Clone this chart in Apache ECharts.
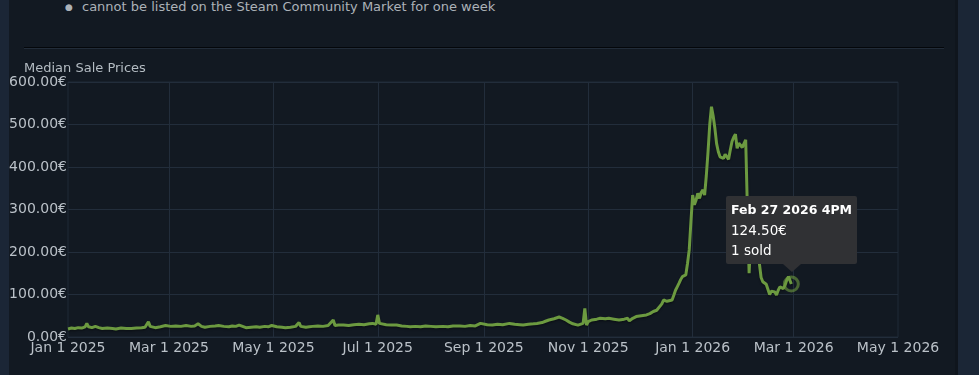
<!DOCTYPE html>
<html><head><meta charset="utf-8">
<script src="https://cdn.jsdelivr.net/npm/echarts@6/dist/echarts.min.js"></script>
<style>
html,body{margin:0;padding:0;width:979px;height:375px;overflow:hidden;background:#1b2636;}
#panel{position:absolute;left:9px;top:0;width:946px;height:375px;background:#121922;}
#edge{position:absolute;left:955px;top:0;width:3px;height:375px;background:#0f151d;}
#note{position:absolute;left:0;top:-1px;width:979px;height:16px;font:13px/16px "DejaVu Sans";color:#acb2b8;white-space:nowrap;}
#sep{position:absolute;left:24px;top:47px;width:920px;height:1px;background:#04070b;border-bottom:1px solid #222c39;}
#chart{position:absolute;left:0;top:0;width:979px;height:375px;}
</style></head>
<body>
<div id="panel"></div><div id="edge"></div>
<div id="note"><span style="position:absolute;left:65px;font-size:9px">&#9679;</span><span style="position:absolute;left:82px">cannot be listed on the Steam Community Market for one week</span></div>
<div id="sep"></div>
<div id="chart"></div>
<script>
// ---- data ----
var titleText = 'Median Sale Prices';
var xTickDates = ['2025-01-01','2025-03-01','2025-05-01','2025-07-01','2025-09-01','2025-11-01','2026-01-01','2026-03-01','2026-05-01'];
var yTicks = [0,100,200,300,400,500,600];
var monthNames = ['Jan','Feb','Mar','Apr','May','Jun','Jul','Aug','Sep','Oct','Nov','Dec'];
var dates = [
'2025-01-01','2025-01-03','2025-01-05','2025-01-07','2025-01-09','2025-01-11','2025-01-12','2025-01-13','2025-01-15','2025-01-17','2025-01-19','2025-01-21','2025-01-24','2025-01-27','2025-01-29',
'2025-02-01','2025-02-04','2025-02-07','2025-02-10','2025-02-13','2025-02-15','2025-02-17','2025-02-18','2025-02-19','2025-02-21','2025-02-24','2025-02-27',
'2025-03-02','2025-03-05','2025-03-08','2025-03-11','2025-03-14','2025-03-16','2025-03-18','2025-03-20','2025-03-22','2025-03-25','2025-03-28','2025-03-30',
'2025-04-02','2025-04-05','2025-04-07','2025-04-09','2025-04-11','2025-04-13','2025-04-15','2025-04-18','2025-04-21','2025-04-23','2025-04-26','2025-04-28','2025-04-30',
'2025-05-03','2025-05-06','2025-05-08','2025-05-11','2025-05-14','2025-05-16','2025-05-17','2025-05-20','2025-05-22','2025-05-24','2025-05-27','2025-05-30',
'2025-06-02','2025-06-05','2025-06-06','2025-06-08','2025-06-11','2025-06-14','2025-06-17','2025-06-20','2025-06-23','2025-06-26','2025-06-28','2025-06-30',
'2025-07-01','2025-07-02','2025-07-03','2025-07-06','2025-07-09','2025-07-12','2025-07-15','2025-07-18','2025-07-20','2025-07-23','2025-07-26','2025-07-29',
'2025-08-01','2025-08-04','2025-08-08','2025-08-11','2025-08-14','2025-08-18','2025-08-21','2025-08-24','2025-08-27','2025-08-30','2025-08-31',
'2025-09-03','2025-09-06','2025-09-09','2025-09-12','2025-09-16','2025-09-19','2025-09-22','2025-09-24','2025-09-27','2025-09-30',
'2025-10-02','2025-10-05','2025-10-07','2025-10-09','2025-10-12','2025-10-15','2025-10-17','2025-10-19','2025-10-21','2025-10-23','2025-10-26','2025-10-29','2025-10-30','2025-10-31',
'2025-11-01','2025-11-03','2025-11-06','2025-11-08','2025-11-11','2025-11-13','2025-11-16','2025-11-19','2025-11-22','2025-11-24','2025-11-25','2025-11-27','2025-11-29',
'2025-12-02','2025-12-05','2025-12-07','2025-12-09','2025-12-11','2025-12-12','2025-12-14','2025-12-15','2025-12-17','2025-12-18','2025-12-20','2025-12-21','2025-12-22','2025-12-23','2025-12-24','2025-12-25','2025-12-26','2025-12-27','2025-12-28','2025-12-29','2025-12-30','2025-12-31',
'2026-01-01','2026-01-02','2026-01-03','2026-01-04','2026-01-05','2026-01-06','2026-01-07','2026-01-08','2026-01-09','2026-01-10','2026-01-11','2026-01-12','2026-01-13','2026-01-14','2026-01-15','2026-01-16','2026-01-17','2026-01-18','2026-01-19','2026-01-20','2026-01-21','2026-01-22','2026-01-23','2026-01-24','2026-01-25','2026-01-26','2026-01-27','2026-01-28','2026-01-29','2026-01-30','2026-01-31',
'2026-02-01','2026-02-02','2026-02-03','2026-02-04','2026-02-05','2026-02-06','2026-02-07','2026-02-08','2026-02-09','2026-02-10','2026-02-11','2026-02-12','2026-02-13','2026-02-14','2026-02-15','2026-02-16','2026-02-17','2026-02-18','2026-02-19','2026-02-20','2026-02-21','2026-02-22','2026-02-23','2026-02-24','2026-02-25','2026-02-26','2026-02-27 16'
];
var prices = [
19,21,20,22,21,24,32,24,22,25,22,20,21,20,19,
21,20,20,21,22,23,36,25,23,22,24,27,
25,26,25,27,25,26,31,25,23,25,26,27,
25,24,26,25,28,25,22,23,24,23,25,24,27,
24,23,22,23,25,34,25,23,24,25,26,25,
27,40,27,28,28,27,29,30,29,31,32,30,
52,32,30,29,28,28,26,25,24,25,24,26,
25,24,25,24,26,26,25,27,26,32,28,
29,28,30,29,32,30,29,28,30,31,
32,34,37,40,43,47,44,40,35,31,28,32,67,28,
36,40,42,44,43,44,42,40,42,44,38,44,48,
50,52,55,60,63,67,78,87,84,83,87,98,110,118,126,135,142,140,146,173,205,271,
334,311,322,338,326,340,346,334,380,436,500,542,520,491,455,436,424,428,420,430,428,418,440,460,470,477,444,456,452,446,448,
464,300,150,240,220,205,195,185,173,140,130,128,124,122,100,108,104,106,99,110,118,116,114,122,134,142,124.5
];
var tipTitle = 'Feb 27 2026 4PM';
var tipSold = 1;

// ---- helpers ----
function toTs(s){
  var p = s.split(' '); var d = p[0].split('-');
  return Date.UTC(+d[0], +d[1]-1, +d[2], p[1] ? +p[1] : 0);
}
function fmtDate(v){
  var d = new Date(v);
  return monthNames[d.getUTCMonth()] + ' ' + d.getUTCDate() + ' ' + d.getUTCFullYear();
}
var seriesData = dates.map(function(s,i){ return [toTs(s), prices[i]]; });
var last = seriesData[seriesData.length-1];
var tickTs = xTickDates.map(toTs);
var FONT = '"DejaVu Sans", sans-serif';

var chart = echarts.init(document.getElementById('chart'), null, {renderer:'canvas'});
chart.setOption({
  animation: false,
  backgroundColor: 'transparent',
  title: {text: titleText, left: 19, top: 57, textStyle: {color:'#b4bcc3', fontSize:13, fontWeight:'normal', fontFamily: FONT}},
  grid: {left: 68, top: 82, width: 830, height: 255, show: true, borderColor: '#1f2a37', borderWidth: 1, backgroundColor: 'transparent'},
  xAxis: {
    type: 'value', min: tickTs[0], max: tickTs[tickTs.length-1],
    axisLine: {show: false}, axisTick: {show: false},
    splitLine: {show: false},
    axisLabel: {customValues: tickTs, formatter: function(v){ return fmtDate(v); }, color: '#bac1c8', fontSize: 14, fontFamily: FONT, margin: 4, hideOverlap: false, showMinLabel: true, showMaxLabel: true}
  },
  yAxis: {
    type: 'value', min: yTicks[0], max: yTicks[yTicks.length-1], interval: 100,
    axisLine: {show: false}, axisTick: {show: false},
    splitLine: {show: true, lineStyle: {color: '#222d3b', width: 1}},
    axisLabel: {formatter: function(v){ return v.toFixed(2) + '€'; }, color: '#bac1c8', fontSize: 14, fontFamily: FONT, margin: 1}
  },
  tooltip: {
    trigger: 'item', triggerOn: 'none', alwaysShowContent: true, transitionDuration: 0,
    backgroundColor: '#303134', borderWidth: 0, padding: [4, 5],
    extraCssText: 'box-shadow:none;border-radius:2px;line-height:20px;',
    textStyle: {color: '#ffffff', fontSize: 13.5, fontFamily: FONT},
    position: function(pt, params, dom, rect, size){
      var p = chart.convertToPixel({gridIndex: 0}, last);
      return [p[0] - size.contentSize[0]/2, p[1] - size.contentSize[1] - 20];
    },
    formatter: function(){
      return '<div style="font-weight:bold;font-size:12.5px">' + tipTitle + '</div>' +
        '<div>' + last[1].toFixed(2) + '€</div>' +
        '<div>' + tipSold + ' sold</div>' +
        '<div style="position:absolute;left:50%;bottom:-8px;margin-left:-9px;width:0;height:0;border-left:9px solid transparent;border-right:9px solid transparent;border-top:8px solid #303134"></div>';
    }
  },
  series: [
    {type: 'line', data: seriesData, showSymbol: false, symbol: 'none',
     lineStyle: {color: '#6c9a40', width: 3, shadowColor: 'rgba(0,0,0,0.35)', shadowBlur: 2, shadowOffsetY: 1.5},
     silent: true, z: 3,
     markLine: {silent: true, symbol: 'none', label: {show: false}, z: 1,
       lineStyle: {color: '#222d3b', width: 1, type: 'solid'},
       data: tickTs.slice(1, -1).map(function(t){ return {xAxis: t}; })}
    },
    {type: 'scatter', data: [last], symbol: 'circle', symbolSize: 14,
     itemStyle: {color: 'rgba(0,0,0,0)', borderColor: 'rgba(108,154,64,0.75)', borderWidth: 3}, z: 4}
  ]
});
chart.dispatchAction({type: 'showTip', seriesIndex: 1, dataIndex: 0});
</script>
</body></html>
